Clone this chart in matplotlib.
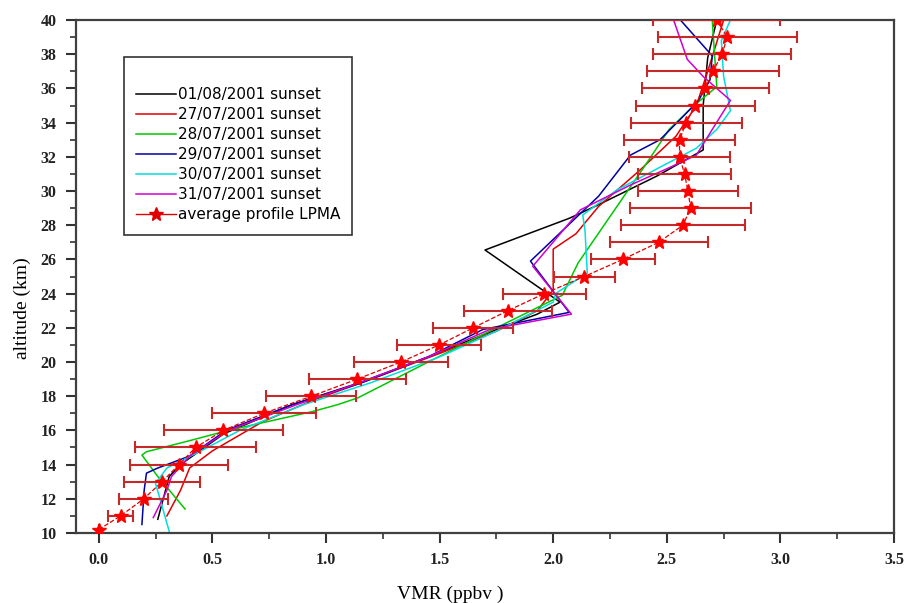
import numpy as np
import matplotlib
matplotlib.use("Agg")
import matplotlib.pyplot as plt
from matplotlib.ticker import MultipleLocator, FormatStrFormatter

# average LPMA profile (stars + error bars)
avg_alt = [10.2, 11, 12, 13, 14, 15, 16, 17, 18, 19, 20, 21, 22, 23, 24, 25,
           26, 27, 28, 29, 30, 31, 32, 33, 34, 35, 36, 37, 38, 39, 40]
avg_vmr = [0.0, 0.096, 0.198, 0.279, 0.353, 0.426, 0.548, 0.727, 0.936, 1.138,
           1.33, 1.498, 1.648, 1.80, 1.961, 2.137, 2.306, 2.464, 2.571, 2.605,
           2.593, 2.578, 2.556, 2.556, 2.585, 2.625, 2.669, 2.703, 2.743, 2.766, 2.72]
avg_err = [0.0, 0.055, 0.108, 0.167, 0.217, 0.268, 0.262, 0.227, 0.198, 0.214,
           0.208, 0.186, 0.176, 0.193, 0.183, 0.134, 0.14, 0.216, 0.273, 0.266,
           0.22, 0.205, 0.221, 0.243, 0.244, 0.262, 0.279, 0.29, 0.303, 0.305, 0.28]

# individual sunset profiles: (vmr, altitude)
p0108_vmr = [0.26, 0.31, 0.36, 0.55, 0.85, 1.15, 1.45, 1.75, 1.93, 2.03, 1.70,
             2.07, 2.20, 2.46, 2.66, 2.66, 2.68, 2.72]
p0108_alt = [10.8, 13.3, 14.0, 15.8, 17.5, 18.8, 20.3, 21.9, 22.8, 23.5, 26.55,
             28.4, 29.2, 30.9, 32.4, 35.0, 37.8, 40.0]

p2707_vmr = [0.30, 0.36, 0.40, 0.50, 0.72, 0.95, 1.20, 1.50, 1.75, 1.93, 2.00,
             2.00, 2.10, 2.20, 2.38, 2.54, 2.63, 2.68, 2.75]
p2707_alt = [11.0, 12.5, 13.8, 14.8, 16.5, 17.8, 19.0, 20.5, 21.8, 23.0, 24.2,
             26.6, 27.5, 29.1, 31.2, 33.2, 35.0, 37.0, 40.0]

p2807_vmr = [0.38, 0.26, 0.19, 0.21, 0.40, 0.57, 0.94, 1.05, 1.14, 1.45, 1.75,
             2.04, 2.11, 2.26, 2.41, 2.51, 2.62, 2.72, 2.71, 2.70]
p2807_alt = [11.4, 13.3, 14.56, 14.75, 15.4, 16.0, 17.1, 17.5, 17.9, 20.0, 22.0,
             23.9, 25.8, 28.7, 31.6, 33.6, 35.0, 36.1, 38.0, 40.0]

p2907_vmr = [0.19, 0.20, 0.21, 0.26, 0.40, 0.56, 0.85, 1.15, 1.45, 1.69, 2.07,
             1.90, 2.20, 2.34, 2.47, 2.56, 2.64, 2.69, 2.70, 2.56]
p2907_alt = [10.5, 12.5, 13.5, 13.8, 14.5, 16.0, 17.5, 18.75, 20.3, 21.9, 22.9,
             25.9, 29.7, 32.1, 33.0, 34.2, 35.3, 36.5, 37.9, 40.0]

p3007_vmr = [0.31, 0.28, 0.25, 0.30, 0.45, 0.62, 0.90, 1.20, 1.50, 1.75, 2.00,
             2.01, 2.15, 2.14, 2.13, 2.28, 2.50, 2.63, 2.72, 2.78, 2.75, 2.74, 2.78]
p3007_alt = [10.1, 11.5, 12.9, 13.8, 14.8, 16.0, 17.5, 18.8, 20.3, 21.8, 23.5,
             24.0, 25.2, 27.7, 28.6, 30.06, 31.6, 32.5, 33.6, 34.7, 36.7, 38.8, 40.0]

p3107_vmr = [0.24, 0.30, 0.32, 0.40, 0.57, 0.87, 1.15, 1.45, 1.72, 2.08, 1.91,
             2.12, 2.34, 2.50, 2.63, 2.70, 2.78, 2.66, 2.59, 2.53]
p3107_alt = [10.9, 12.5, 13.3, 14.5, 16.0, 17.5, 18.8, 20.3, 21.9, 22.8, 25.6,
             28.9, 30.35, 31.3, 32.1, 33.6, 35.3, 36.7, 37.7, 40.0]

labels = ["01/08/2001 sunset", "27/07/2001 sunset", "28/07/2001 sunset",
          "29/07/2001 sunset", "30/07/2001 sunset", "31/07/2001 sunset"]
colors = ["black", "#e00000", "#00c800", "#0000a0", "#00dede", "#d000d0"]

profiles = [(p0108_vmr, p0108_alt), (p2707_vmr, p2707_alt), (p2807_vmr, p2807_alt),
            (p2907_vmr, p2907_alt), (p3007_vmr, p3007_alt), (p3107_vmr, p3107_alt)]

fig = plt.figure(figsize=(9.06, 6.03), dpi=100)
ax = fig.add_axes([0.0839, 0.1161, 0.9029, 0.8507])

for (v, a), lab, c in zip(profiles, labels, colors):
    ax.plot(v, a, color=c, lw=1.1, label=lab)

ax.errorbar(avg_vmr, avg_alt, xerr=avg_err, fmt="none", ecolor="#c42a2a",
            elinewidth=1.5, capsize=4, capthick=1.5, zorder=3)
ax.plot(avg_vmr, avg_alt, color="#e00000", lw=0.9, ls="--", zorder=4)
ax.plot(avg_vmr, avg_alt, ls="none", marker="*", ms=10, color="#ff0000",
        mec="#ff0000", zorder=5)
# legend proxy
ax.plot([], [], color="#e00000", lw=1.0, marker="*", ms=10, label="average profile LPMA")

ax.set_xlim(-0.1, 3.5)
ax.set_ylim(10, 40)
ax.xaxis.set_major_locator(MultipleLocator(0.5))
ax.xaxis.set_minor_locator(MultipleLocator(0.25))
ax.xaxis.set_major_formatter(FormatStrFormatter("%.1f"))
ax.yaxis.set_major_locator(MultipleLocator(2))
ax.yaxis.set_minor_locator(MultipleLocator(1))
ax.tick_params(which="major", direction="out", length=7, width=1.5, color="#333333", pad=7)
ax.tick_params(which="minor", direction="out", length=4, width=1.2, color="#333333")
for s in ax.spines.values():
    s.set_linewidth(1.6)
    s.set_color("#404040")

for t in ax.get_xticklabels() + ax.get_yticklabels():
    t.set_fontfamily("Liberation Serif")
    t.set_fontweight("bold")
    t.set_fontsize(11.5)
    t.set_color("#222222")

ax.set_xlabel("VMR (ppbv )", fontfamily="Liberation Serif", fontsize=14)
ax.set_ylabel("altitude (km)", fontfamily="Liberation Serif", fontsize=14)
ax.xaxis.set_label_coords(0.457, -0.103)
ax.yaxis.set_label_coords(-0.055, 0.4386)

leg = ax.legend(loc="upper left", bbox_to_anchor=(0.0587, 0.928), title=" ",
                prop={"family": "DejaVu Sans", "size": 11}, frameon=True,
                fancybox=False, edgecolor="black", labelspacing=0.33,
                handlelength=2.6, handletextpad=0.1, borderpad=0.8,
                borderaxespad=0)
leg.get_frame().set_linewidth(1.2)
leg.get_title().set_fontsize(9)

fig.savefig("out.png", dpi=100)
